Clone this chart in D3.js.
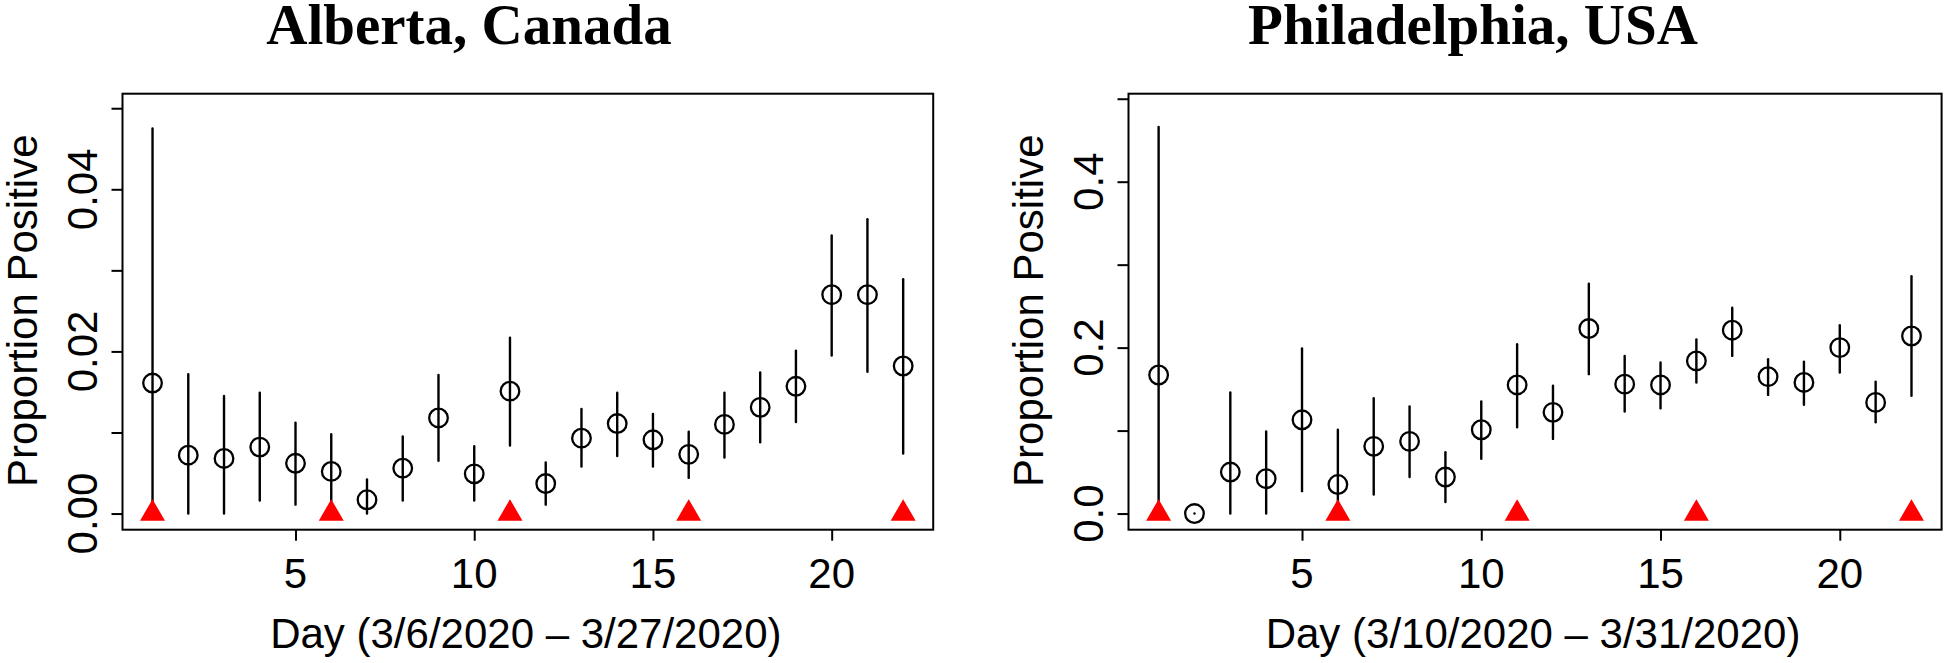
<!DOCTYPE html>
<html>
<head>
<meta charset="utf-8">
<script src="https://cdn.jsdelivr.net/npm/d3@7"></script>
<style>
  html, body { margin: 0; padding: 0; background: #fff; }
  svg { display: block; }
</style>
</head>
<body>
<svg id="chart" width="1946" height="663"></svg>
<script>
// ---------------- data ----------------
const days = [1, 2, 3, 4, 5, 6, 7, 8, 9, 10, 11, 12, 13, 14, 15, 16, 17, 18, 19, 20, 21, 22];

const albertaEst = [0.0161, 0.0072, 0.0068, 0.0082, 0.0062, 0.0052, 0.0017, 0.0056, 0.0118, 0.0049, 0.0151,
                    0.0037, 0.0093, 0.0111, 0.0091, 0.0073, 0.0110, 0.0131, 0.0157, 0.0270, 0.0270, 0.0182];
const albertaLo  = [0.0000, 0.0000, 0.0000, 0.0016, 0.0011, 0.0005, 0.0000, 0.0016, 0.0065, 0.0016, 0.0084,
                    0.0011, 0.0058, 0.0071, 0.0058, 0.0044, 0.0069, 0.0088, 0.0113, 0.0195, 0.0175, 0.0074];
const albertaHi  = [0.0475, 0.0172, 0.0145, 0.0149, 0.0112, 0.0098, 0.0042, 0.0095, 0.0171, 0.0083, 0.0217,
                    0.0063, 0.0129, 0.0149, 0.0123, 0.0101, 0.0149, 0.0174, 0.0201, 0.0343, 0.0363, 0.0289];

const phillyEst = [0.167, 0.000, 0.050, 0.042, 0.113, 0.035, 0.081, 0.087, 0.044, 0.101, 0.155,
                   0.122, 0.223, 0.156, 0.155, 0.184, 0.221, 0.165, 0.158, 0.200, 0.134, 0.214];
const phillyLo  = [0.000, 0.000, 0.000, 0.000, 0.027, 0.004, 0.023, 0.044, 0.014, 0.066, 0.104,
                   0.090, 0.168, 0.123, 0.127, 0.158, 0.190, 0.143, 0.131, 0.170, 0.110, 0.142];
const phillyHi  = [0.466, 0.000, 0.146, 0.099, 0.199, 0.101, 0.139, 0.129, 0.074, 0.135, 0.204,
                   0.154, 0.277, 0.190, 0.182, 0.210, 0.248, 0.186, 0.183, 0.227, 0.159, 0.286];

const triangleDays = [1, 6, 11, 16, 22];
const xTicks = [5, 10, 15, 20];

const albertaYTicks  = [0, 0.01, 0.02, 0.03, 0.04, 0.05];
const albertaYLabels = ["0.00", "0.02", "0.04"];
const phillyYTicks   = [0, 0.1, 0.2, 0.3, 0.4, 0.5];
const phillyYLabels  = ["0.0", "0.2", "0.4"];

const panelTitles = ["Alberta, Canada", "Philadelphia, USA"];
const xTitles = ["Day (3/6/2020 \u2013 3/27/2020)", "Day (3/10/2020 \u2013 3/31/2020)"];
const yTitle = "Proportion Positive";
const yUpperLimits = [0.0498, 0.4866];

// ---------------- layout ----------------
const panels = [
  { title: panelTitles[0], xTitle: xTitles[0], est: albertaEst, lo: albertaLo, hi: albertaHi,
    yTicks: albertaYTicks, yLabels: albertaYLabels, yMax: yUpperLimits[0],
    left: 122.5, right: 933.2, titleX: 469 },
  { title: panelTitles[1], xTitle: xTitles[1], est: phillyEst, lo: phillyLo, hi: phillyHi,
    yTicks: phillyYTicks, yLabels: phillyYLabels, yMax: yUpperLimits[1],
    left: 1128.5, right: 1941.6, titleX: 1473 }
];
const plotTop = 93.7, plotBottom = 529.7;
const axisFont = "'Liberation Sans', Arial, Helvetica, sans-serif";
const titleFont = "'Liberation Serif', 'Times New Roman', serif";

const svg = d3.select("#chart");

panels.forEach(p => {
  const g = svg.append("g");
  const xMin = d3.min(days), xMax = d3.max(days);
  const xPad = (xMax - xMin) * 0.04;
  const x = d3.scaleLinear().domain([xMin - xPad, xMax + xPad]).range([p.left, p.right]);
  const yPad = p.yMax * 0.04;
  const y = d3.scaleLinear().domain([-yPad, p.yMax + yPad]).range([plotBottom, plotTop]);

  // error bars
  g.selectAll("line.err").data(days).enter().append("line")
    .attr("class", "err")
    .attr("x1", d => x(d)).attr("x2", d => x(d))
    .attr("y1", (d, i) => y(p.lo[i])).attr("y2", (d, i) => y(p.hi[i]))
    .attr("stroke", "#000").attr("stroke-width", 2.4).attr("stroke-linecap", "round");

  // point estimates
  g.selectAll("circle.pt").data(days).enter().append("circle")
    .attr("class", "pt")
    .attr("cx", d => x(d)).attr("cy", (d, i) => y(p.est[i]))
    .attr("r", 9.3)
    .attr("fill", "none").attr("stroke", "#000").attr("stroke-width", 2.3);

  // red triangles at y = 0
  const tri = d3.symbol().type(d3.symbolTriangle).size(270);
  g.selectAll("path.tri").data(triangleDays).enter().append("path")
    .attr("class", "tri")
    .attr("d", tri)
    .attr("transform", d => `translate(${x(d)},${y(0)})`)
    .attr("fill", "#ff0000");

  // box
  g.append("rect")
    .attr("x", p.left).attr("y", plotTop)
    .attr("width", p.right - p.left).attr("height", plotBottom - plotTop)
    .attr("fill", "none").attr("stroke", "#000").attr("stroke-width", 2);

  // x axis ticks
  const xAxis = d3.axisBottom(x).tickValues(xTicks).tickSize(11).tickSizeOuter(0).tickFormat("");
  const xg = g.append("g").attr("transform", `translate(0,${plotBottom})`).call(xAxis);
  xg.select(".domain").remove();
  xg.selectAll(".tick line").attr("stroke", "#000").attr("stroke-width", 2);

  g.selectAll("text.xlab").data(xTicks).enter().append("text")
    .attr("class", "xlab")
    .attr("x", d => x(d)).attr("y", 587.5)
    .attr("text-anchor", "middle")
    .attr("font-family", axisFont).attr("font-size", 42)
    .text(d => d);

  // y axis ticks
  const yAxis = d3.axisLeft(y).tickValues(p.yTicks).tickSize(11).tickSizeOuter(0).tickFormat("");
  const yg = g.append("g").attr("transform", `translate(${p.left},0)`).call(yAxis);
  yg.select(".domain").remove();
  yg.selectAll(".tick line").attr("stroke", "#000").attr("stroke-width", 2);

  g.selectAll("text.ylab").data(p.yLabels).enter().append("text")
    .attr("class", "ylab")
    .attr("transform", d => `translate(${p.left - 26},${y(+d)}) rotate(-90)`)
    .attr("text-anchor", "middle")
    .attr("font-family", axisFont).attr("font-size", 42)
    .text(d => d);

  // axis titles
  g.append("text")
    .attr("x", (p.left + p.right) / 2 - 2).attr("y", 647.5)
    .attr("text-anchor", "middle")
    .attr("font-family", axisFont).attr("font-size", 42)
    .text(p.xTitle);

  g.append("text")
    .attr("transform", `translate(${p.left - 86},${(plotTop + plotBottom) / 2 - 1}) rotate(-90)`)
    .attr("text-anchor", "middle")
    .attr("font-family", axisFont).attr("font-size", 42)
    .text(yTitle);

  // panel title
  g.append("text")
    .attr("x", p.titleX).attr("y", 43.5)
    .attr("text-anchor", "middle")
    .attr("font-family", titleFont).attr("font-size", 57).attr("font-weight", "bold")
    .text(p.title);
});
</script>
</body>
</html>
